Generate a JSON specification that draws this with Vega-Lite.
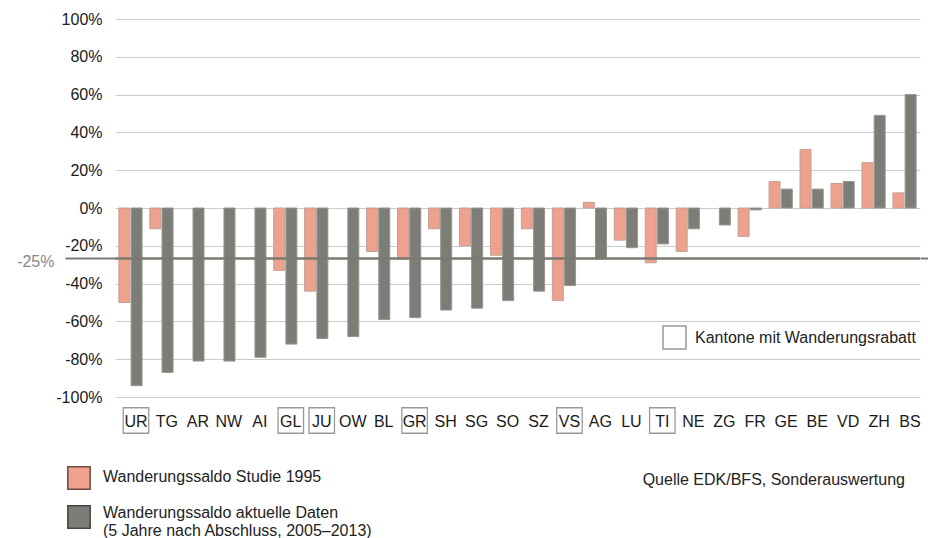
{
  "$schema": "https://vega.github.io/schema/vega-lite/v6.json",
  "width": 805,
  "height": 378,
  "autosize": {"type": "none"},
  "padding": {"left": 115, "top": 19, "right": 8, "bottom": 141},
  "config": {
    "view": {"stroke": null},
    "font": "Liberation Sans",
    "axis": {"labelFont": "Liberation Sans", "labelFontSize": 16, "labelColor": "#1a1a1a", "title": null}
  },
  "title": {
    "text": "Quelle EDK/BFS, Sonderauswertung",
    "orient": "bottom",
    "anchor": "end",
    "frame": "group",
    "dx": -15,
    "offset": -67,
    "font": "Liberation Sans",
    "fontSize": 16,
    "fontWeight": "normal",
    "color": "#222222"
  },
  "datasets": {
    "bars": [
      {"canton": "UR", "series": "Wanderungssaldo Studie 1995", "value": -50},
      {"canton": "UR", "series": "Wanderungssaldo aktuelle Daten (5 Jahre nach Abschluss, 2005–2013)", "value": -94},
      {"canton": "TG", "series": "Wanderungssaldo Studie 1995", "value": -11},
      {"canton": "TG", "series": "Wanderungssaldo aktuelle Daten (5 Jahre nach Abschluss, 2005–2013)", "value": -87},
      {"canton": "AR", "series": "Wanderungssaldo aktuelle Daten (5 Jahre nach Abschluss, 2005–2013)", "value": -81},
      {"canton": "NW", "series": "Wanderungssaldo aktuelle Daten (5 Jahre nach Abschluss, 2005–2013)", "value": -81},
      {"canton": "AI", "series": "Wanderungssaldo aktuelle Daten (5 Jahre nach Abschluss, 2005–2013)", "value": -79},
      {"canton": "GL", "series": "Wanderungssaldo Studie 1995", "value": -33},
      {"canton": "GL", "series": "Wanderungssaldo aktuelle Daten (5 Jahre nach Abschluss, 2005–2013)", "value": -72},
      {"canton": "JU", "series": "Wanderungssaldo Studie 1995", "value": -44},
      {"canton": "JU", "series": "Wanderungssaldo aktuelle Daten (5 Jahre nach Abschluss, 2005–2013)", "value": -69},
      {"canton": "OW", "series": "Wanderungssaldo aktuelle Daten (5 Jahre nach Abschluss, 2005–2013)", "value": -68},
      {"canton": "BL", "series": "Wanderungssaldo Studie 1995", "value": -23},
      {"canton": "BL", "series": "Wanderungssaldo aktuelle Daten (5 Jahre nach Abschluss, 2005–2013)", "value": -59},
      {"canton": "GR", "series": "Wanderungssaldo Studie 1995", "value": -27},
      {"canton": "GR", "series": "Wanderungssaldo aktuelle Daten (5 Jahre nach Abschluss, 2005–2013)", "value": -58},
      {"canton": "SH", "series": "Wanderungssaldo Studie 1995", "value": -11},
      {"canton": "SH", "series": "Wanderungssaldo aktuelle Daten (5 Jahre nach Abschluss, 2005–2013)", "value": -54},
      {"canton": "SG", "series": "Wanderungssaldo Studie 1995", "value": -20},
      {"canton": "SG", "series": "Wanderungssaldo aktuelle Daten (5 Jahre nach Abschluss, 2005–2013)", "value": -53},
      {"canton": "SO", "series": "Wanderungssaldo Studie 1995", "value": -25},
      {"canton": "SO", "series": "Wanderungssaldo aktuelle Daten (5 Jahre nach Abschluss, 2005–2013)", "value": -49},
      {"canton": "SZ", "series": "Wanderungssaldo Studie 1995", "value": -11},
      {"canton": "SZ", "series": "Wanderungssaldo aktuelle Daten (5 Jahre nach Abschluss, 2005–2013)", "value": -44},
      {"canton": "VS", "series": "Wanderungssaldo Studie 1995", "value": -49},
      {"canton": "VS", "series": "Wanderungssaldo aktuelle Daten (5 Jahre nach Abschluss, 2005–2013)", "value": -41},
      {"canton": "AG", "series": "Wanderungssaldo Studie 1995", "value": 3},
      {"canton": "AG", "series": "Wanderungssaldo aktuelle Daten (5 Jahre nach Abschluss, 2005–2013)", "value": -27},
      {"canton": "LU", "series": "Wanderungssaldo Studie 1995", "value": -17},
      {"canton": "LU", "series": "Wanderungssaldo aktuelle Daten (5 Jahre nach Abschluss, 2005–2013)", "value": -21},
      {"canton": "TI", "series": "Wanderungssaldo Studie 1995", "value": -29},
      {"canton": "TI", "series": "Wanderungssaldo aktuelle Daten (5 Jahre nach Abschluss, 2005–2013)", "value": -19},
      {"canton": "NE", "series": "Wanderungssaldo Studie 1995", "value": -23},
      {"canton": "NE", "series": "Wanderungssaldo aktuelle Daten (5 Jahre nach Abschluss, 2005–2013)", "value": -11},
      {"canton": "ZG", "series": "Wanderungssaldo aktuelle Daten (5 Jahre nach Abschluss, 2005–2013)", "value": -9},
      {"canton": "FR", "series": "Wanderungssaldo Studie 1995", "value": -15},
      {"canton": "FR", "series": "Wanderungssaldo aktuelle Daten (5 Jahre nach Abschluss, 2005–2013)", "value": -1},
      {"canton": "GE", "series": "Wanderungssaldo Studie 1995", "value": 14},
      {"canton": "GE", "series": "Wanderungssaldo aktuelle Daten (5 Jahre nach Abschluss, 2005–2013)", "value": 10},
      {"canton": "BE", "series": "Wanderungssaldo Studie 1995", "value": 31},
      {"canton": "BE", "series": "Wanderungssaldo aktuelle Daten (5 Jahre nach Abschluss, 2005–2013)", "value": 10},
      {"canton": "VD", "series": "Wanderungssaldo Studie 1995", "value": 13},
      {"canton": "VD", "series": "Wanderungssaldo aktuelle Daten (5 Jahre nach Abschluss, 2005–2013)", "value": 14},
      {"canton": "ZH", "series": "Wanderungssaldo Studie 1995", "value": 24},
      {"canton": "ZH", "series": "Wanderungssaldo aktuelle Daten (5 Jahre nach Abschluss, 2005–2013)", "value": 49},
      {"canton": "BS", "series": "Wanderungssaldo Studie 1995", "value": 8},
      {"canton": "BS", "series": "Wanderungssaldo aktuelle Daten (5 Jahre nach Abschluss, 2005–2013)", "value": 60}
    ],
    "rabatt": [
      {"canton": "UR", "group": "Kantone mit Wanderungsrabatt"},
      {"canton": "GL", "group": "Kantone mit Wanderungsrabatt"},
      {"canton": "JU", "group": "Kantone mit Wanderungsrabatt"},
      {"canton": "GR", "group": "Kantone mit Wanderungsrabatt"},
      {"canton": "VS", "group": "Kantone mit Wanderungsrabatt"},
      {"canton": "TI", "group": "Kantone mit Wanderungsrabatt"}
    ],
    "ref": [{"value": -26.7, "label": "-25%"}]
  },
  "layer": [
    {
      "data": {"name": "bars"},
      "mark": {"type": "bar", "strokeWidth": 1},
      "encoding": {
        "x": {
          "field": "canton",
          "type": "nominal",
          "sort": ["UR","TG","AR","NW","AI","GL","JU","OW","BL","GR","SH","SG","SO","SZ","VS","AG","LU","TI","NE","ZG","FR","GE","BE","VD","ZH","BS"],
          "scale": {"paddingInner": 0.25, "paddingOuter": 0.125},
          "axis": {"orient": "bottom", "domain": false, "ticks": false, "tickSize": 0, "labelAngle": 0, "labelPadding": 16, "labelOffset": 5.5, "labelFontSize": 16}
        },
        "xOffset": {
          "field": "series",
          "type": "nominal",
          "scale": {"domain": ["Wanderungssaldo Studie 1995", "Wanderungssaldo aktuelle Daten (5 Jahre nach Abschluss, 2005–2013)"], "paddingInner": 0.1}
        },
        "y": {
          "field": "value",
          "type": "quantitative",
          "scale": {"domain": [-100, 100], "nice": false},
          "axis": {
            "orient": "left",
            "values": [-100, -80, -60, -40, -20, 0, 20, 40, 60, 80, 100],
            "labelExpr": "datum.value + '%'",
            "domain": false,
            "ticks": false,
            "tickSize": 0,
            "labelPadding": 13,
            "grid": true,
            "gridColor": "#cccccc",
            "gridWidth": 1
          }
        },
        "color": {
          "field": "series",
          "type": "nominal",
          "scale": {"domain": ["Wanderungssaldo Studie 1995", "Wanderungssaldo aktuelle Daten (5 Jahre nach Abschluss, 2005–2013)"], "range": ["#EEA18D", "#7C7D76"]},
          "legend": {
            "orient": "none",
            "legendX": -48,
            "legendY": 447,
            "padding": 0,
            "title": null,
            "symbolType": "square",
            "symbolSize": 500,
            "symbolStrokeColor": "#555555",
            "symbolStrokeWidth": 1.5,
            "labelFont": "Liberation Sans",
            "labelFontSize": 16,
            "labelColor": "#222222",
            "labelOffset": 12,
            "rowPadding": 9,
            "labelLimit": 400,
            "labelExpr": "indexof(datum.label, ' (') > 0 ? [slice(datum.label, 0, indexof(datum.label, ' (')), slice(datum.label, indexof(datum.label, ' (') + 1)] : datum.label",
            "encode": {
              "symbols": {
                "update": {
                  "fill": {"signal": "datum.value === 'Wanderungssaldo Studie 1995' ? '#E8927B' : '#666666'"},
                  "stroke": {"signal": "datum.value === 'Wanderungssaldo Studie 1995' ? '#6e4a40' : '#444444'"}
                }
              },
              "labels": {
                "update": {
                  "dy": {"signal": "datum.value === 'Wanderungssaldo Studie 1995' ? -1 : -4"},
                  "lineHeight": {"value": 18}
                }
              }
            }
          }
        },
        "stroke": {
          "condition": {"test": "datum.series === 'Wanderungssaldo Studie 1995'", "value": "#C2A096"},
          "value": "#96968F"
        }
      }
    },
    {
      "data": {"name": "rabatt"},
      "mark": {"type": "point", "shape": "square", "filled": false, "size": 650, "strokeWidth": 1.3, "opacity": 1, "xOffset": 5.5, "yOffset": 23.5},
      "encoding": {
        "x": {"field": "canton", "type": "nominal", "sort": ["UR","TG","AR","NW","AI","GL","JU","OW","BL","GR","SH","SG","SO","SZ","VS","AG","LU","TI","NE","ZG","FR","GE","BE","VD","ZH","BS"]},
        "y": {"datum": -100, "type": "quantitative", "scale": {"domain": [-100, 100], "nice": false}, "axis": null},
        "stroke": {
          "field": "group",
          "type": "nominal",
          "scale": {"range": ["#999999"]},
          "legend": {
            "orient": "none",
            "legendX": 547,
            "legendY": 306,
            "padding": 0,
            "title": null,
            "symbolType": "square",
            "symbolSize": 529,
            "symbolStrokeWidth": 1.5,
            "symbolOpacity": 1,
            "labelFont": "Liberation Sans",
            "labelFontSize": 16,
            "labelColor": "#222222",
            "labelOffset": 8,
            "labelLimit": 400,
            "encode": {"symbols": {"update": {"stroke": {"value": "#333333"}, "strokeOpacity": {"value": 1}, "opacity": {"value": 1}, "strokeWidth": {"value": 1.5}}}}
          }
        }
      }
    },
    {
      "data": {"name": "ref"},
      "mark": {"type": "rule", "stroke": "#7a7a72", "strokeWidth": 2},
      "encoding": {
        "y": {
          "field": "value",
          "type": "quantitative",
          "scale": {"domain": [-100, 100], "nice": false},
          "axis": {
            "orient": "left",
            "values": [-26.7],
            "labelExpr": "'-25%'",
            "domain": false,
            "grid": false,
            "ticks": true,
            "tickSize": 50,
            "tickColor": "#7a7a72",
            "tickWidth": 2,
            "labelPadding": 11,
            "labelOffset": 3,
            "labelColor": "#888888",
            "labelFontSize": 16
          }
        }
      }
    },
    {
      "data": {"name": "ref"},
      "mark": {"type": "rule", "stroke": "#7a7a72", "strokeWidth": 2},
      "encoding": {
        "y": {
          "field": "value",
          "type": "quantitative",
          "scale": {"domain": [-100, 100], "nice": false},
          "axis": {
            "orient": "right",
            "values": [-26.7],
            "labels": false,
            "domain": false,
            "grid": false,
            "ticks": true,
            "tickSize": 8,
            "tickColor": "#7a7a72",
            "tickWidth": 2
          }
        }
      }
    }
  ],
  "resolve": {"axis": {"y": "independent"}}
}
